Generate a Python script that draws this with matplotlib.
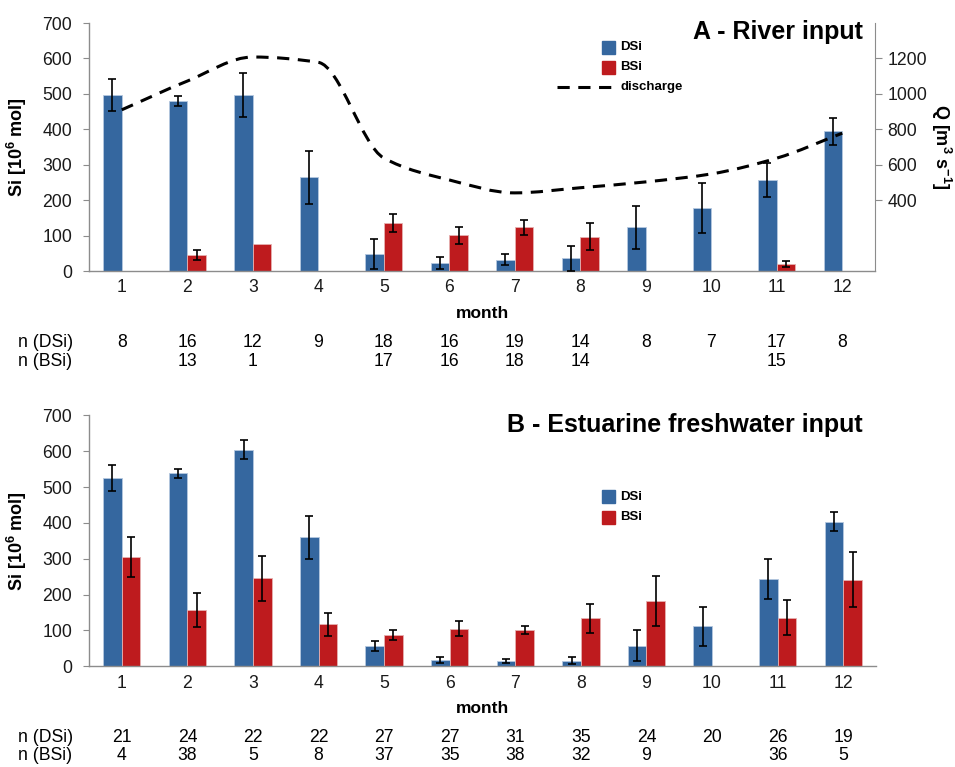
import numpy as np
import matplotlib
matplotlib.use("Agg")
import matplotlib.pyplot as plt
import matplotlib.transforms as mtransforms
from matplotlib.path import Path
from matplotlib.patches import PathPatch, Rectangle
from matplotlib.lines import Line2D

plt.rcParams['font.family'] = ['Liberation Sans', 'DejaVu Sans']
plt.rcParams['mathtext.fontset'] = 'custom'
plt.rcParams['mathtext.rm'] = 'Liberation Sans'
plt.rcParams['mathtext.bf'] = 'Liberation Sans:bold'

months = np.arange(1, 13)
nan = np.nan

# A - river input
river_dsi = [498, 480, 498, 264, 48, 23, 32, 36, 123, 177, 258, 394]
river_dsi_err = [45, 15, 62, 75, 41, 17, 16, 35, 61, 70, 48, 38]
river_bsi = [nan, 45, 76, nan, 136, 101, 123, 97, nan, nan, 19, nan]
river_bsi_err = [nan, 15, nan, nan, 25, 24, 22, 38, nan, nan, 8, nan]
discharge = [910, 1072, 1208, 1178, 638, 514, 441, 470, 503, 548, 637, 778]
river_n_dsi = ['8', '16', '12', '9', '18', '16', '19', '14', '8', '7', '17', '8']
river_n_bsi = ['', '13', '1', '', '17', '16', '18', '14', '', '', '15', '']

# B - estuarine freshwater input
est_dsi = [525, 538, 604, 360, 57, 17, 15, 16, 57, 111, 244, 403]
est_dsi_err = [37, 12, 27, 60, 14, 8, 6, 9, 43, 55, 55, 26]
est_bsi = [305, 157, 245, 117, 88, 105, 102, 134, 183, nan, 136, 242]
est_bsi_err = [56, 48, 64, 32, 14, 21, 11, 41, 70, nan, 50, 76]
est_n_dsi = ['21', '24', '22', '22', '27', '27', '31', '35', '24', '20', '26', '19']
est_n_bsi = ['4', '38', '5', '8', '37', '35', '38', '32', '9', '', '36', '5']

BLUE = '#35679f'
RED = '#be1b1e'
GREY = '#8c8c8c'
W = 0.285
DASH = (4.0, 2.8)

fig = plt.figure(figsize=(9.55, 7.67), dpi=100)
fig_h = 767.0
fig_w = 955.0


def px(x, y):
    return x / fig_w, 1 - y / fig_h


def draw_bars(ax, dsi, dsi_err, bsi, bsi_err):
    dsi = np.array(dsi, float)
    bsi = np.array(bsi, float)
    dsi_err = np.array(dsi_err, float)
    bsi_err = np.array(bsi_err, float)
    xd = months - W / 2
    xb = months + W / 2
    ok = np.isfinite(bsi)
    ax.bar(xd, dsi, W, color=BLUE, edgecolor='#b5c8df', linewidth=0.6, zorder=2)
    ax.bar(xb[ok], bsi[ok], W, color=RED, edgecolor='#e6b0b0', linewidth=0.6, zorder=2)
    ax.errorbar(xd, dsi, yerr=dsi_err, fmt='none', ecolor='black',
                elinewidth=1.2, capsize=3.2, capthick=1.2, zorder=4)
    e = ok & np.isfinite(bsi_err)
    ax.errorbar(xb[e], bsi[e], yerr=bsi_err[e], fmt='none', ecolor='black',
                elinewidth=1.2, capsize=3.2, capthick=1.2, zorder=4)


def style_axes(ax):
    ax.set_xlim(0.5, 12.5)
    ax.set_ylim(0, 700)
    ax.set_yticks(range(0, 701, 100))
    ax.set_xticks(months)
    for s in ['top', 'right']:
        ax.spines[s].set_visible(False)
    for s in ['left', 'bottom']:
        ax.spines[s].set_color(GREY)
        ax.spines[s].set_linewidth(1.0)
    ax.tick_params(axis='y', length=4, color=GREY, pad=8, labelsize=12.7, labelcolor='#1a1a1a')
    ax.tick_params(axis='x', length=0, pad=6, labelsize=12.7, labelcolor='#1a1a1a')
    ax.set_ylabel(r'Si [10$^{\mathbf{6}}$ mol]', fontsize=13, fontweight='bold', labelpad=10)
    ax.set_xlabel('month', fontsize=12.5, fontweight='bold', labelpad=7)


def n_rows(ax, y1, y2, row1, row2):
    tr = mtransforms.blended_transform_factory(ax.transData, fig.transFigure)
    for m, a, b in zip(months, row1, row2):
        ax.text(m, 1 - y1 / fig_h, a, transform=tr, ha='center', va='center', fontsize=12.7)
        ax.text(m, 1 - y2 / fig_h, b, transform=tr, ha='center', va='center', fontsize=12.7)
    fig.text(18 / fig_w, 1 - y1 / fig_h, 'n (DSi)', ha='left', va='center', fontsize=12.7)
    fig.text(18 / fig_w, 1 - y2 / fig_h, 'n (BSi)', ha='left', va='center', fontsize=12.7)


def legend_entries(y_first, with_line):
    rows = [(BLUE, 'DSi'), (RED, 'BSi')]
    for i, (c, lab) in enumerate(rows):
        yc = y_first + 20 * i
        x0, y0 = px(602, yc + 6.5)
        fig.patches.append(Rectangle((x0, y0), 13 / fig_w, 13 / fig_h, color=c,
                                     transform=fig.transFigure, figure=fig))
        fig.text(*px(620, yc), lab, ha='left', va='center', fontsize=9.5, fontweight='bold')
    if with_line:
        yc = y_first + 40
        xa, ya = px(557, yc)
        xb, yb = px(611, yc)
        fig.lines.append(Line2D([xa, xb], [ya, yb], transform=fig.transFigure, color='black',
                                lw=2.2, dashes=DASH, figure=fig))
        fig.text(*px(620, yc), 'discharge', ha='left', va='center', fontsize=9.5, fontweight='bold')


def smooth_path(x, y):
    # monotone cubic (Fritsch-Carlson) curve written as Bezier segments
    x = np.asarray(x, float)
    y = np.asarray(y, float)
    h = np.diff(x)
    d = np.diff(y) / h
    m = np.zeros_like(y)
    m[0], m[-1] = d[0], d[-1]
    for k in range(1, len(y) - 1):
        if d[k - 1] * d[k] > 0:
            m[k] = 2.0 / (1.0 / d[k - 1] + 1.0 / d[k])
    verts = [(x[0], y[0])]
    codes = [Path.MOVETO]
    for k in range(len(x) - 1):
        verts += [(x[k] + h[k] / 3, y[k] + m[k] * h[k] / 3),
                  (x[k + 1] - h[k] / 3, y[k + 1] - m[k + 1] * h[k] / 3),
                  (x[k + 1], y[k + 1])]
        codes += [Path.CURVE4] * 3
    return Path(verts, codes)


# panel A
axA = fig.add_axes([89 / fig_w, 1 - 271 / fig_h, 786 / fig_w, 248 / fig_h])
draw_bars(axA, river_dsi, river_dsi_err, river_bsi, river_bsi_err)
style_axes(axA)

axQ = axA.twinx()
axQ.set_ylim(0, 1400)
axQ.set_yticks([400, 600, 800, 1000, 1200])
for s in ['top', 'left', 'bottom']:
    axQ.spines[s].set_visible(False)
axQ.spines['right'].set_color(GREY)
axQ.tick_params(axis='y', length=5, color=GREY, pad=4, labelsize=12.7, labelcolor='#1a1a1a')
axQ.add_patch(PathPatch(smooth_path(months, discharge), fill=False, edgecolor='black',
                        lw=2.2, linestyle=(0, DASH), zorder=5))
fig.text(*px(941, 147), r'Q [m$^{\mathbf{3}}$ s$^{\mathbf{-1}}$]', rotation=-90,
         ha='center', va='center', fontsize=13, fontweight='bold')

fig.text(*px(863, 32), 'A - River input', ha='right', va='center', fontsize=18, fontweight='bold')
legend_entries(47, True)
n_rows(axA, 342, 361, river_n_dsi, river_n_bsi)

# panel B
axB = fig.add_axes([89 / fig_w, 1 - 666.3 / fig_h, 787 / fig_w, 251 / fig_h])
draw_bars(axB, est_dsi, est_dsi_err, est_bsi, est_bsi_err)
style_axes(axB)
fig.text(*px(863, 425), 'B - Estuarine freshwater input', ha='right', va='center',
         fontsize=18, fontweight='bold')
legend_entries(497, False)
n_rows(axB, 737, 756, est_n_dsi, est_n_bsi)

fig.savefig('out.png', dpi=100)
